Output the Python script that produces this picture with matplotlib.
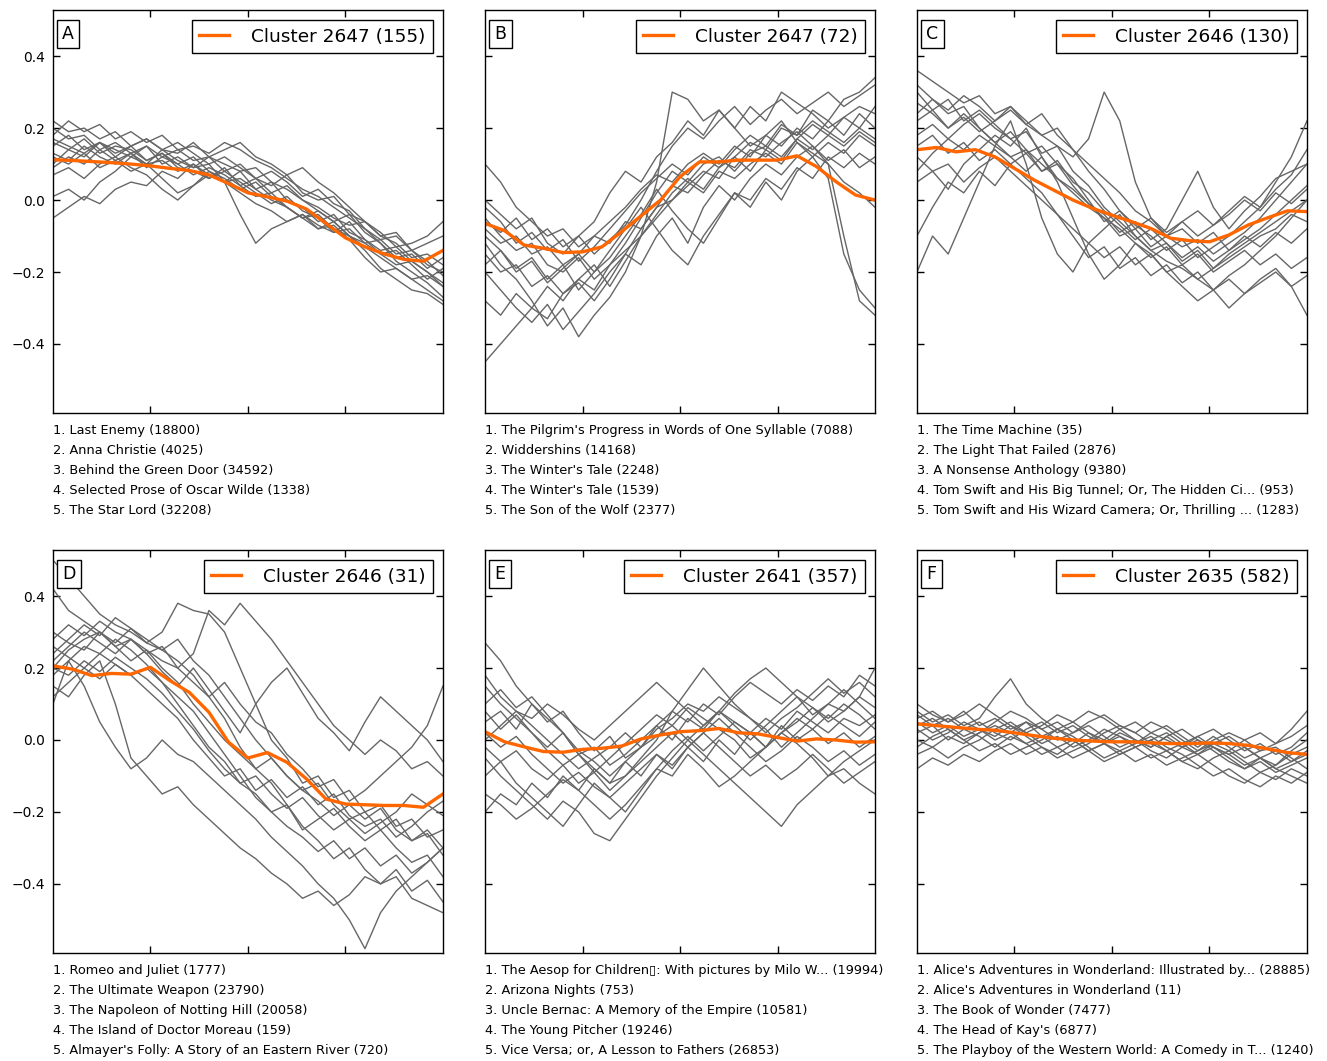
import numpy as np
import matplotlib
matplotlib.use('Agg')
import matplotlib.pyplot as plt

# gray member lines, 26 samples each over the normalised narrative time
a_lines = [
    [.20,.17,.18,.14,.16,.13,.15,.12,.14,.11,.12,.08,.10,.06,.04,.07,.02,.00,.01,-.04,-.06,-.10,-.12,-.16,-.15,-.18],
    [-.05,-.02,.01,-.01,.03,.05,.04,.08,.06,.10,.07,.05,.08,.03,.00,-.02,-.05,-.04,-.08,-.10,-.13,-.16,-.19,-.22,-.25,-.28],
    [.15,.18,.14,.16,.12,.15,.11,.13,.10,.12,.08,.05,-.04,-.12,-.08,-.06,-.04,-.07,-.09,-.06,-.11,-.14,-.13,-.17,-.20,-.24],
    [.01,.03,.00,.05,.08,.12,.10,.14,.11,.09,.12,.10,.08,.09,.05,.03,.00,-.03,-.06,-.10,-.14,-.19,-.22,-.25,-.26,-.29],
    [.18,.22,.19,.21,.17,.19,.16,.18,.14,.15,.13,.16,.14,.11,.09,.06,.03,.01,-.02,-.05,-.08,-.11,-.10,-.14,-.12,-.10],
    [.12,.10,.13,.09,.11,.08,.10,.06,.02,.04,.07,.05,.02,-.01,-.03,-.06,-.04,-.08,-.06,-.10,-.12,-.11,-.15,-.14,-.18,-.20],
    [.10,.14,.12,.16,.13,.15,.17,.14,.13,.16,.12,.14,.16,.12,.10,.07,.09,.05,.02,-.02,-.06,-.09,-.13,-.12,-.10,-.06],
    [.16,.14,.17,.13,.15,.14,.11,.13,.09,.08,.06,.09,.04,.01,.02,-.02,-.05,-.08,-.07,-.11,-.16,-.20,-.19,-.22,-.21,-.24],
    [.07,.09,.06,.10,.12,.09,.07,.03,.00,.04,.08,.06,.03,.05,.01,-.02,-.05,-.03,-.06,-.04,-.09,-.12,-.16,-.15,-.19,-.16],
    [.22,.19,.20,.17,.19,.15,.17,.14,.16,.13,.10,.12,.09,.06,.08,.05,.01,.03,-.01,-.03,-.08,-.12,-.17,-.20,-.23,-.27],
    [.13,.11,.15,.12,.10,.13,.09,.12,.10,.07,.09,.07,.04,.06,.02,.04,.00,-.02,-.05,-.07,-.06,-.10,-.09,-.14,-.17,-.21],
    [.09,.12,.10,.14,.11,.13,.10,.11,.08,.10,.06,.08,.05,.02,-.01,.01,-.03,-.05,-.09,-.08,-.12,-.15,-.14,-.18,-.22,-.19],
    [.17,.15,.13,.16,.14,.12,.15,.10,.12,.09,.10,.05,.06,.03,.05,.00,-.02,-.06,-.04,-.09,-.11,-.15,-.18,-.17,-.20,-.23],
]
b_lines = [
    [-.45,-.40,-.35,-.30,-.33,-.26,-.22,-.25,-.18,-.12,-.05,.02,.08,.05,.10,.12,.08,.13,.15,.12,.17,.14,.18,.15,.19,.16],
    [.10,.05,-.02,-.06,-.10,-.08,-.13,-.10,-.06,-.02,.03,.07,.05,.10,.13,.10,.15,.12,.18,.15,.20,.17,.22,.18,.24,.20],
    [-.12,-.18,-.22,-.28,-.35,-.30,-.38,-.32,-.27,-.20,-.10,.05,.30,.28,.22,.25,.20,.15,.18,.22,.16,.12,.06,-.15,-.25,-.30],
    [-.05,-.10,-.14,-.12,-.18,-.20,-.16,-.22,-.18,-.14,-.10,-.05,.00,.04,.08,.06,.12,.16,.14,.20,.18,.25,.22,.28,.30,.34],
    [-.15,-.20,-.18,-.24,-.21,-.26,-.23,-.28,-.22,-.15,-.08,-.02,.04,.02,.07,.11,.09,.14,.12,.16,.19,.15,.10,-.10,-.28,-.32],
    [-.08,-.12,-.10,-.15,-.13,-.18,-.15,-.10,-.12,-.06,-.08,-.02,.00,.05,.02,.08,.06,.10,.13,.10,.16,.13,.10,.05,.02,-.02],
    [-.20,-.25,-.30,-.34,-.29,-.36,-.31,-.26,-.20,-.15,-.18,-.10,-.05,-.12,-.02,.04,.00,.06,.10,.07,.12,.15,.11,.14,.09,.12],
    [.00,-.04,-.08,-.05,-.12,-.15,-.10,-.06,.02,.08,.05,.12,.16,.22,.18,.25,.20,.26,.22,.30,.27,.24,.20,.23,.26,.24],
    [-.10,-.14,-.19,-.16,-.22,-.18,-.25,-.20,-.16,-.10,-.04,.03,-.03,-.08,-.12,-.05,.02,-.02,.05,.00,.08,.12,.16,.13,.18,.15],
    [-.02,-.06,-.12,-.09,-.14,-.11,-.17,-.13,-.08,-.03,.02,.06,.10,.07,.12,.09,.14,.18,.15,.21,.18,.22,.19,.16,.20,.17],
    [-.18,-.14,-.20,-.17,-.23,-.19,-.15,-.20,-.14,-.08,-.02,-.08,-.14,-.18,-.10,-.04,.02,.00,.06,.03,.09,.06,.12,.09,.13,.10],
    [-.28,-.32,-.26,-.30,-.24,-.28,-.22,-.18,-.24,-.17,-.10,-.04,.02,.06,.03,.09,.12,.08,.14,.11,.17,.21,.18,.23,.20,.26],
    [-.06,-.09,-.05,-.11,-.08,-.13,-.10,-.15,-.11,-.07,.00,.08,.15,.20,.17,.22,.26,.21,.25,.28,.24,.27,.30,.26,.29,.32],
]
c_lines = [
    [.36,.33,.30,.27,.29,.24,.26,.22,.18,.20,.14,.10,.06,.02,-.03,-.06,-.10,-.13,-.11,-.15,-.12,-.09,-.05,.00,.05,.10],
    [.30,.25,.28,.22,.25,.21,.17,.19,.13,.15,.08,.04,-.02,-.06,-.10,-.14,-.17,-.19,-.22,-.25,-.21,-.18,-.14,-.10,-.05,.00],
    [-.20,-.10,-.15,-.05,.05,.15,.22,.10,-.05,-.15,-.20,-.12,-.08,-.04,-.10,-.14,-.12,-.17,-.14,-.19,-.16,-.13,-.10,-.08,-.04,-.06],
    [.22,.25,.20,.23,.19,.22,.25,.21,.18,.15,.12,.17,.30,.22,.05,-.05,-.10,-.08,-.12,-.09,-.14,-.11,-.08,-.04,.00,.04],
    [.05,.08,.03,.10,.14,.18,.15,.20,.12,.05,-.05,-.15,-.22,-.18,-.12,-.15,-.20,-.24,-.28,-.25,-.30,-.26,-.22,-.19,-.24,-.32],
    [.27,.24,.20,.24,.20,.16,.19,.14,.10,.06,.02,-.02,-.05,-.08,-.12,-.16,-.13,-.18,-.15,-.20,-.17,-.14,-.18,-.15,-.19,-.16],
    [.18,.21,.17,.14,.18,.15,.12,.08,.12,.06,.03,-.01,-.04,-.09,-.06,-.11,-.08,.00,.08,-.02,-.08,-.03,.01,.06,.08,.10],
    [.12,.08,.10,.05,.09,.12,.08,.04,.00,-.04,-.08,-.12,-.16,-.13,-.18,-.15,-.20,-.18,-.22,-.19,-.15,-.12,-.09,-.06,-.03,.00],
    [.24,.28,.25,.29,.26,.22,.26,.21,.24,.18,.14,.08,.03,-.03,-.07,-.10,-.14,-.11,-.16,-.13,-.10,-.06,-.02,.03,.07,.14],
    [-.10,-.02,.05,.02,.08,.04,.10,.06,.02,-.04,-.10,-.16,-.13,-.19,-.16,-.21,-.18,-.23,-.20,-.25,-.22,-.26,-.23,-.20,-.24,-.21],
    [.32,.28,.24,.26,.20,.16,.12,.14,.08,.10,.04,-.01,-.05,-.10,-.08,-.13,-.10,-.06,-.03,-.07,-.04,.00,-.03,.02,-.01,.03],
    [.15,.18,.13,.16,.11,.14,.10,.13,.08,.11,.05,.02,-.03,-.07,-.11,-.08,-.12,-.16,-.13,-.17,-.14,-.10,-.13,-.09,-.12,-.08],
    [.08,.13,.17,.21,.24,.20,.17,.13,.15,.10,.06,.00,-.06,-.03,-.08,-.05,-.09,-.06,-.10,-.07,-.03,.01,-.02,.05,.12,.22],
]
d_lines = [
    [.50,.45,.40,.35,.32,.30,.27,.25,.28,.22,.18,.12,.06,.00,-.05,-.10,-.14,-.12,-.18,-.22,-.20,-.25,-.22,-.28,-.25,-.30],
    [.20,.25,.28,.30,.27,.31,.28,.25,.22,.18,.12,.06,-.02,-.08,-.12,-.18,-.24,-.28,-.33,-.30,-.36,-.40,-.38,-.44,-.46,-.48],
    [.10,.22,.15,.05,-.02,-.08,-.05,.00,-.04,-.06,-.10,-.14,-.18,-.22,-.27,-.31,-.35,-.40,-.44,-.50,-.58,-.48,-.42,-.38,-.34,-.30],
    [.24,.28,.32,.29,.34,.31,.27,.30,.38,.36,.35,.30,.20,.10,.00,-.05,-.12,-.10,-.16,-.14,-.20,-.18,-.24,-.22,-.27,-.25],
    [.28,.32,.29,.33,.30,.28,.24,.26,.20,.16,.12,.16,.10,.05,.02,-.04,-.08,-.13,-.11,-.17,-.14,-.10,-.06,-.02,.04,.15],
    [.18,.22,.26,.24,.28,.25,.21,.16,.10,.04,-.02,-.06,-.12,-.15,-.20,-.24,-.27,-.31,-.28,-.33,-.30,-.35,-.32,-.37,-.34,-.30],
    [.15,.12,.18,.22,.10,-.05,-.10,-.15,-.13,-.18,-.22,-.26,-.30,-.33,-.37,-.40,-.44,-.42,-.46,-.43,-.38,-.40,-.36,-.42,-.39,-.45],
    [.22,.26,.30,.27,.24,.28,.25,.22,.20,.24,.36,.32,.38,.33,.28,.22,.16,.10,.04,.00,-.04,.00,-.03,-.08,-.06,-.10],
    [.30,.27,.25,.30,.26,.22,.25,.20,.16,.10,.05,.00,-.04,-.08,-.05,-.10,-.14,-.17,-.21,-.18,-.22,-.19,-.25,-.28,-.26,-.32],
    [.26,.23,.20,.24,.21,.18,.14,.10,.06,.00,-.05,-.10,-.08,-.14,-.11,-.16,-.13,-.18,-.15,-.21,-.24,-.22,-.27,-.24,-.20,-.17],
    [.12,.16,.20,.17,.21,.18,.20,.16,.12,.08,.02,-.04,-.10,-.16,-.20,-.18,-.25,-.22,-.19,-.24,-.28,-.25,-.30,-.34,-.32,-.38],
    [.42,.36,.33,.30,.26,.28,.24,.19,.15,.20,.14,.08,.02,.10,.16,.20,.13,.06,.02,-.03,.05,.12,.08,.04,.00,-.06],
    [.20,.18,.22,.19,.23,.20,.17,.13,.08,.03,-.03,-.08,-.12,-.10,-.15,-.19,-.16,-.21,-.25,-.22,-.26,-.23,-.20,-.15,-.18,-.21],
]
e_lines = [
    [.27,.22,.15,.10,.05,.08,.02,-.03,.01,-.05,-.02,.04,.00,.06,.03,.08,.05,.02,.06,.03,.08,.05,.02,.06,.04,.07],
    [.05,.08,.03,.10,.06,.02,-.04,-.08,-.12,-.10,-.05,.00,.08,.14,.20,.15,.10,.06,.03,-.02,.02,.06,.10,.08,.12,.09],
    [-.20,-.15,-.18,-.12,-.16,-.10,-.14,-.08,-.12,-.06,-.10,-.04,-.08,-.02,-.06,.00,-.04,.02,-.02,.04,.00,.03,-.01,.02,-.02,.01],
    [.10,.14,.09,.12,.07,.02,-.04,-.02,-.07,-.04,.00,.04,.08,.05,.10,.07,.12,.16,.13,.10,.14,.11,.15,.12,.18,.15],
    [-.05,-.10,-.14,-.18,-.22,-.17,-.20,-.26,-.28,-.22,-.16,-.10,-.05,.00,-.04,-.08,-.12,-.16,-.20,-.24,-.18,-.14,-.10,-.06,-.03,.00],
    [.00,.04,.08,.06,.10,.07,.03,.00,.04,.08,.12,.16,.12,.08,.04,.08,.13,.17,.20,.16,.12,.07,.10,.14,.10,.06],
    [.15,.10,.06,.02,-.03,-.07,-.04,-.09,-.05,-.01,.03,.07,.04,.09,.06,.03,.00,-.05,-.02,.02,-.01,-.05,-.10,-.08,-.12,-.15],
    [-.10,-.06,-.12,-.16,-.20,-.24,-.18,-.12,-.16,-.20,-.14,-.08,-.10,-.04,-.08,-.13,-.10,-.06,-.02,.02,.06,.03,.07,.04,.01,.05],
    [.08,.03,.07,.02,-.02,.02,-.03,-.06,-.10,-.06,-.02,.03,.06,.10,.08,.12,.09,.06,.02,.06,.09,.13,.17,.13,.16,.12],
    [.02,-.02,.01,-.04,-.08,-.12,-.09,-.13,-.16,-.12,-.08,-.04,-.07,-.02,.02,.06,.02,-.02,-.06,-.03,.01,-.02,-.06,-.03,-.07,-.04],
    [-.15,-.18,-.22,-.19,-.15,-.11,-.14,-.18,-.22,-.18,-.13,-.08,-.03,.01,-.03,.01,.05,.02,-.02,.02,.05,.09,.06,.10,.07,.03],
    [.18,.12,.08,.04,.00,-.04,-.08,-.05,-.02,.02,-.02,.01,.04,.00,.04,.08,.04,.00,.04,.08,.12,.09,.05,.08,.12,.20],
    [-.02,-.06,-.03,-.08,-.11,-.07,-.12,-.09,-.14,-.10,-.06,-.02,.02,-.02,.02,-.02,-.06,-.10,-.07,-.11,-.08,-.04,-.08,-.12,-.09,-.06],
]
f_lines = [
    [.08,.05,.07,.04,.06,.12,.17,.10,.06,.03,.05,.02,.00,.03,.00,-.02,.01,-.02,.00,-.03,-.06,-.08,-.05,-.07,-.03,.00],
    [.02,.04,.00,.03,.01,-.02,.01,-.01,-.04,-.02,-.05,-.03,-.06,-.04,-.02,-.05,-.03,-.06,-.04,-.07,-.10,-.12,-.09,-.11,-.08,-.10],
    [-.04,-.02,-.05,-.02,.00,.03,.05,.02,.04,.07,.05,.08,.06,.03,.05,.02,.04,.01,-.02,.01,-.02,-.05,-.03,-.01,.03,.08],
    [.10,.07,.05,.08,.04,.06,.03,.05,.01,.03,.00,-.03,-.01,-.04,-.02,.00,-.03,-.01,-.04,-.02,-.05,-.08,-.06,-.09,-.07,-.05],
    [.05,.02,.04,.01,.03,.00,.02,-.01,.01,-.02,.00,-.03,-.01,.02,.00,-.02,.01,.03,.00,-.02,-.04,-.02,-.05,-.03,-.06,-.04],
    [-.08,-.05,-.07,-.04,-.06,-.03,-.01,-.04,-.02,-.05,-.03,-.01,.02,.04,.02,.05,.03,.00,-.03,-.01,.01,-.02,-.05,-.08,-.10,-.12],
    [.06,.08,.05,.07,.10,.07,.04,.01,-.02,-.04,-.01,.02,-.01,-.03,-.06,-.04,-.07,-.05,-.03,.00,.02,.00,-.03,-.02,-.05,-.08],
    [.00,-.02,.01,-.01,.02,.04,.02,.05,.03,.00,.02,.05,.07,.04,.02,-.01,-.03,-.06,-.08,-.05,-.03,-.06,-.09,-.07,-.04,-.02],
    [.04,.06,.03,.00,-.03,-.01,-.04,-.02,.00,.03,.01,-.02,-.05,-.03,-.01,.02,.00,-.02,.01,.03,.00,-.03,-.01,-.04,-.02,.02],
    [.03,.00,.02,.05,.03,.01,.04,.02,-.01,.01,-.02,.00,.03,.01,-.01,.01,-.02,-.04,-.07,-.10,-.08,-.11,-.13,-.10,-.12,-.09],
    [-.02,.01,.03,.00,.02,.05,.08,.06,.03,.05,.02,.04,.01,-.02,.00,-.03,-.05,-.02,-.04,-.01,-.03,.00,.02,-.01,.01,.04],
    [.07,.04,.06,.03,.05,.02,.00,.03,.05,.02,.04,.01,-.01,.01,-.02,.00,.02,-.01,.01,-.02,-.04,-.07,-.05,-.08,-.06,-.03],
]

# cluster centroids (orange), 21 samples
a_mean = [.112,.110,.107,.104,.100,.095,.088,.082,.070,.046,.020,.009,-.003,-.025,-.065,-.105,-.130,-.150,-.165,-.170,-.140]
b_mean = [-.065,-.085,-.125,-.134,-.146,-.144,-.130,-.088,-.044,.000,.065,.106,.106,.111,.111,.111,.123,.093,.051,.014,.000]
c_mean = [.140,.146,.134,.140,.120,.088,.056,.028,.000,-.023,-.042,-.060,-.079,-.106,-.113,-.116,-.097,-.069,-.049,-.030,-.032]
d_mean = [.206,.197,.179,.185,.183,.202,.165,.132,.077,-.006,-.050,-.035,-.062,-.108,-.164,-.178,-.180,-.182,-.182,-.187,-.150]
e_mean = [.023,-.005,-.019,-.032,-.034,-.026,-.023,-.017,.003,.014,.023,.026,.032,.020,.017,.007,-.003,.003,.000,-.006,-.005]
f_mean = [.045,.040,.035,.030,.027,.020,.012,.005,.000,-.003,-.005,-.005,-.008,-.010,-.010,-.008,-.010,-.015,-.025,-.035,-.040]

letters = ['A', 'B', 'C', 'D', 'E', 'F']
clusters = ['Cluster 2647 (155)', 'Cluster 2647 (72)', 'Cluster 2646 (130)',
            'Cluster 2646 (31)', 'Cluster 2641 (357)', 'Cluster 2635 (582)']
titles = [
    ['Last Enemy (18800)', 'Anna Christie (4025)', 'Behind the Green Door (34592)',
     'Selected Prose of Oscar Wilde (1338)', 'The Star Lord (32208)'],
    ["The Pilgrim's Progress in Words of One Syllable (7088)", 'Widdershins (14168)',
     "The Winter's Tale (2248)", "The Winter's Tale (1539)", 'The Son of the Wolf (2377)'],
    ['The Time Machine (35)', 'The Light That Failed (2876)', 'A Nonsense Anthology (9380)',
     'Tom Swift and His Big Tunnel; Or, The Hidden Ci... (953)',
     'Tom Swift and His Wizard Camera; Or, Thrilling ... (1283)'],
    ['Romeo and Juliet (1777)', 'The Ultimate Weapon (23790)', 'The Napoleon of Notting Hill (20058)',
     'The Island of Doctor Moreau (159)', "Almayer's Folly: A Story of an Eastern River (720)"],
    ['The Aesop for Children\u25af: With pictures by Milo W... (19994)', 'Arizona Nights (753)',
     'Uncle Bernac: A Memory of the Empire (10581)', 'The Young Pitcher (19246)',
     'Vice Versa; or, A Lesson to Fathers (26853)'],
    ["Alice's Adventures in Wonderland: Illustrated by... (28885)",
     "Alice's Adventures in Wonderland (11)", 'The Book of Wonder (7477)',
     "The Head of Kay's (6877)", 'The Playboy of the Western World: A Comedy in T... (1240)'],
]
all_lines = [a_lines, b_lines, c_lines, d_lines, e_lines, f_lines]
all_means = [a_mean, b_mean, c_mean, d_mean, e_mean, f_mean]

plt.rcParams['font.family'] = 'DejaVu Sans'
plt.rcParams['axes.linewidth'] = 1.0

fig = plt.figure(figsize=(13.27, 10.61), dpi=100)
lefts = [0.0399, 0.3655, 0.6910]
bottoms = [0.6107, 0.1018]
w, h = 0.2939, 0.3798

for k in range(6):
    ax = fig.add_axes([lefts[k % 3], bottoms[k // 3], w, h])
    for ln in all_lines[k]:
        ax.plot(np.linspace(0, 1, len(ln)), ln, color='#666666', lw=1.0)
    m = all_means[k]
    ax.plot(np.linspace(0, 1, len(m)), m, color='#ff6600', lw=2.4, label=clusters[k])

    ax.set_xlim(0, 1)
    ax.set_ylim(-0.592, 0.528)
    ax.set_xticks([0.25, 0.5, 0.75])
    ax.set_yticks([-0.4, -0.2, 0.0, 0.2, 0.4])
    ax.tick_params(direction='in', top=True, right=True, length=5, width=1,
                   labelbottom=False, labelleft=(k % 3 == 0), labelsize=10, pad=6)
    if k % 3 == 0:
        ax.set_yticklabels(['\u22120.4', '\u22120.2', '0.0', '0.2', '0.4'])

    leg = ax.legend(loc='upper right', fontsize=13.3, fancybox=False, framealpha=1,
                    edgecolor='black', handlelength=1.6, handletextpad=1.2,
                    borderaxespad=0.55, borderpad=0.4)
    leg.get_frame().set_linewidth(1.0)

    ax.text(0.024, 0.963, letters[k], transform=ax.transAxes, fontsize=12.5,
            va='top', ha='left',
            bbox=dict(boxstyle='square,pad=0.3', facecolor='white', edgecolor='black'))

    for i, t in enumerate(titles[k]):
        ax.annotate('%d. %s' % (i + 1, t), xy=(0, 0), xycoords='axes fraction',
                    xytext=(0, -12.5 - 14.4 * i), textcoords='offset points',
                    fontsize=9.3, va='center', ha='left')

fig.savefig('out.png', dpi=100)
